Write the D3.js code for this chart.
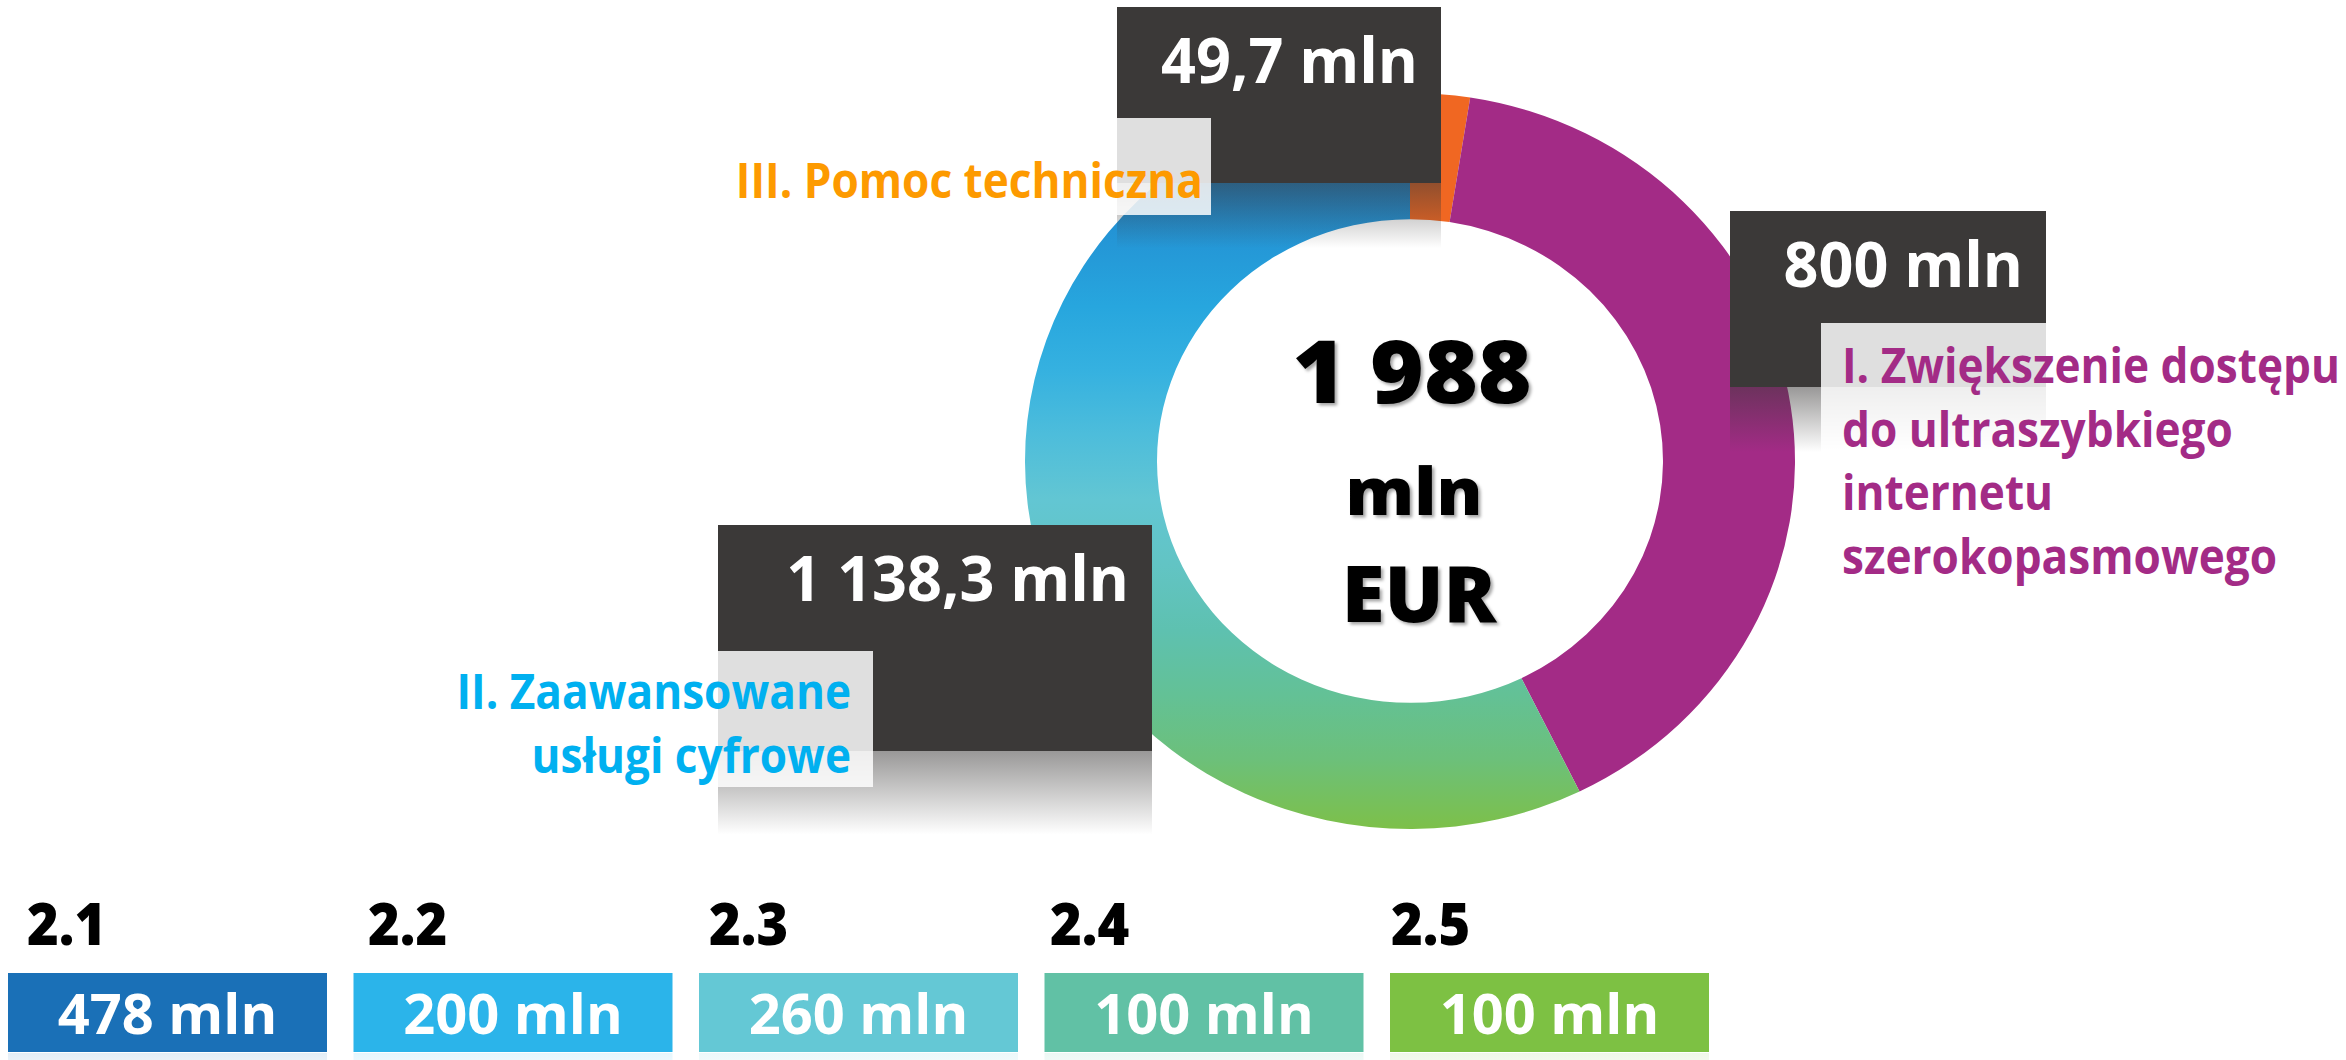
<!DOCTYPE html>
<html><head><meta charset="utf-8">
<script src="https://cdn.jsdelivr.net/npm/d3@7"></script>
<style>html,body{margin:0;padding:0;background:#fff;overflow:hidden}svg{display:block}</style>
</head><body><svg id="chart" width="2346" height="1060"></svg>
<script>
// ---------- data ----------
const categories = ["III", "I", "II"];
const categoryLines = [
  ["III. Pomoc techniczna"],
  ["I. Zwiększenie dostępu", "do ultraszybkiego", "internetu", "szerokopasmowego"],
  ["II. Zaawansowane", "usługi cyfrowe"]
];
const categoryValues = [49.7, 800, 1138.3];
const totalValue = 1988;
const totalUnit = ["mln", "EUR"];
const unit = "mln";
const subCodes = ["2.1", "2.2", "2.3", "2.4", "2.5"];
const subValues = [478, 200, 260, 100, 100];

// ---------- styles ----------
const categoryColors = ["#f06722", "#a32b86", "url(#ringGrad)"];
const labelColors = ["#fd9a00", "#a32b86", "#00b0f0"];
const subColors = ["#1a70b7", "#2bb4ea", "#64c8d5", "#61c1a5", "#7dc143"];
const ringStops = [[0, "#1b78c0"], [0.14, "#1f8bd2"], [0.2, "#2496d6"], [0.29, "#27a6de"], [0.376, "#35b1e0"],
  [0.464, "#4dbddb"], [0.552, "#62c6d3"], [0.64, "#62c4c4"], [0.73, "#5ec1b0"], [0.817, "#63c196"],
  [0.905, "#6cc07a"], [1, "#7dc049"]];

const FONT = "'Open Sans', 'Noto Sans', sans-serif";
const pl = d3.formatLocale({decimal: ",", thousands: " ", grouping: [3], currency: ["", "€"]});
const fmt = pl.format(",.1~f");

const svg = d3.select("#chart");
const defs = svg.append("defs");

// ring geometry
const cx = 1410, cy = 461, rOuter = 385, rInner = 253, sy = 0.956;

const grad = defs.append("linearGradient").attr("id", "ringGrad")
  .attr("gradientUnits", "userSpaceOnUse").attr("x1", 0).attr("x2", 0).attr("y1", -rOuter).attr("y2", rOuter);
grad.selectAll("stop").data(ringStops).join("stop")
  .attr("offset", d => d[0]).attr("stop-color", d => d[1]);

const rg = defs.append("linearGradient").attr("id", "reflGrad").attr("x1", 0).attr("x2", 0).attr("y1", 0).attr("y2", 1);
rg.append("stop").attr("offset", 0).attr("stop-color", "#3b3938").attr("stop-opacity", 0.52);
rg.append("stop").attr("offset", 1).attr("stop-color", "#3b3938").attr("stop-opacity", 0);

subColors.forEach((c, i) => {
  const g = defs.append("linearGradient").attr("id", "subRefl" + i).attr("x1", 0).attr("x2", 0).attr("y1", 0).attr("y2", 1);
  g.append("stop").attr("offset", 0).attr("stop-color", c).attr("stop-opacity", 0.12);
  g.append("stop").attr("offset", 1).attr("stop-color", c).attr("stop-opacity", 0);
});

const f = defs.append("filter").attr("id", "shadow").attr("x", "-10%").attr("y", "-10%").attr("width", "130%").attr("height", "130%");
f.append("feDropShadow").attr("dx", 2.5).attr("dy", 2.5).attr("stdDeviation", 1.6)
  .attr("flood-color", "#000").attr("flood-opacity", 0.35);

// ---------- donut ----------
const pie = d3.pie().sort(null).value(d => d)(categoryValues);
const arc = d3.arc().innerRadius(rInner).outerRadius(rOuter);
const ring = svg.append("g").attr("transform", `translate(${cx},${cy}) scale(1,${sy})`);
ring.selectAll("path").data(pie).join("path")
  .attr("d", arc).attr("fill", (d, i) => categoryColors[i]);

// ---------- centre total ----------
const center = svg.append("g").attr("filter", "url(#shadow)")
  .attr("font-family", FONT).attr("font-weight", 800).attr("fill", "#000").attr("text-anchor", "middle");
center.append("text").attr("transform", "translate(1412,403) scale(1.07,1)").attr("font-size", 86).text(fmt(totalValue));
center.append("text").attr("transform", "translate(1414,515) scale(1.04,1)").attr("font-size", 66).text(totalUnit[0]);
center.append("text").attr("x", 1419).attr("y", 622).attr("font-size", 78).text(totalUnit[1]);

// ---------- callouts ----------
const callouts = [
  {box: {x0: 1117, y0: 7, x1: 1441, y1: 183}, lbox: {x0: 1117, y0: 118, x1: 1211, y1: 215}, text: {x: 1203, y: 198, anchor: "end"}},
  {box: {x0: 1730, y0: 211, x1: 2046, y1: 387}, lbox: {x0: 1821, y0: 323, x1: 2046, y1: 460}, text: {x: 1842, y: 383, anchor: "start"}},
  {box: {x0: 718, y0: 525, x1: 1152, y1: 751}, lbox: {x0: 718, y0: 651, x1: 873, y1: 787}, text: {x: 851, y: 709, anchor: "end"}}
];

const cg = svg.append("g").attr("font-family", FONT).attr("font-weight", 700);
categories.forEach((c, i) => {
  const L = callouts[i];
  const b = L.box, h = b.y1 - b.y0;
  cg.append("rect").attr("x", b.x0).attr("y", b.y0).attr("width", b.x1 - b.x0).attr("height", h).attr("fill", "#3b3938");
  cg.append("rect").attr("x", b.x0).attr("y", b.y1).attr("width", b.x1 - b.x0).attr("height", h * 0.37).attr("fill", "url(#reflGrad)");
  cg.append("text").attr("transform", `translate(${b.x1 - 23},${b.y0 + 76}) scale(0.97,1)`)
    .attr("text-anchor", "end").attr("font-size", 63).attr("fill", "#fff")
    .text(`${fmt(categoryValues[i])} ${unit}`);
  const lb = L.lbox;
  cg.append("rect").attr("x", lb.x0).attr("y", lb.y0).attr("width", lb.x1 - lb.x0).attr("height", lb.y1 - lb.y0)
    .attr("fill", "#fff").attr("fill-opacity", 0.84);
  categoryLines[i].forEach((line, j) => {
    cg.append("text").attr("transform", `translate(${L.text.x},${L.text.y + j * 63.5}) scale(0.92,1)`)
      .attr("text-anchor", L.text.anchor).attr("font-size", 48).attr("fill", labelColors[i]).text(line);
  });
});

// ---------- sub-measure boxes ----------
const band = d3.scaleBand().domain(subCodes).range([8, 1709]).paddingInner(0.0767);
const labelBand = d3.scaleBand().domain(subCodes).range([27, 27 + 5 * 341]);
const boxTop = 973, boxH = 79;
const sg = svg.append("g").attr("font-family", FONT).attr("font-weight", 700);
const items = sg.selectAll("g").data(subCodes).join("g");
items.append("rect").attr("x", d => band(d)).attr("y", boxTop).attr("width", band.bandwidth()).attr("height", boxH)
  .attr("fill", (d, i) => subColors[i]);
items.append("rect").attr("x", d => band(d)).attr("y", boxTop + boxH + 1).attr("width", band.bandwidth()).attr("height", 30)
  .attr("fill", (d, i) => `url(#subRefl${i})`);
items.append("text").attr("transform", d => `translate(${labelBand(d)},945) scale(0.92,1)`)
  .attr("font-size", 59).attr("font-weight", 800).attr("fill", "#000").text(d => d);
items.append("text").attr("x", d => band(d) + band.bandwidth() / 2).attr("y", 1034).attr("text-anchor", "middle")
  .attr("font-size", 56).attr("fill", "#fff").text((d, i) => `${fmt(subValues[i])} ${unit}`);
</script></body></html>
